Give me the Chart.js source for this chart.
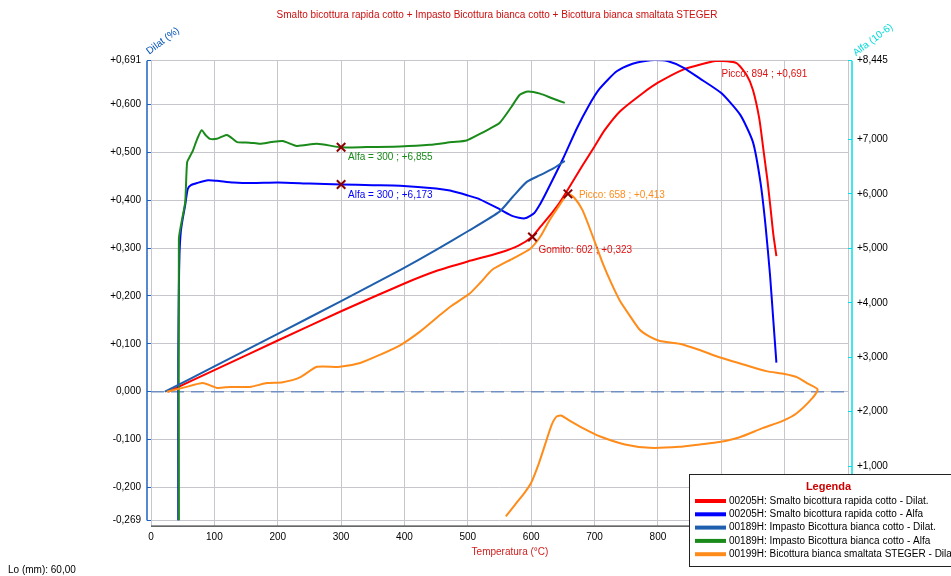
<!DOCTYPE html>
<html>
<head>
<meta charset="utf-8">
<script src="https://cdn.jsdelivr.net/npm/chart.js@4.4.1/dist/chart.umd.min.js"></script>
<style>
  html, body { margin: 0; padding: 0; background: #fff; }
  canvas { display: block; }
</style>
</head>
<body>
<canvas id="dilatChart" width="951" height="576"></canvas>
<script>
const chartTitle = 'Smalto bicottura rapida cotto + Impasto Bicottura bianca cotto + Bicottura bianca smaltata STEGER';
const seriesNames = [
  '00205H: Smalto bicottura rapida cotto - Dilat.',
  '00205H: Smalto bicottura rapida cotto - Alfa',
  '00189H: Impasto Bicottura bianca cotto - Dilat.',
  '00189H: Impasto Bicottura bianca cotto - Alfa',
  '00199H: Bicottura bianca smaltata STEGER - Dilat.'
];
const seriesColors = ['#ff0000', '#0000ff', '#1f5fae', '#1a8a1a', '#ff8c1a'];

// temperature (°C) / dilatation (%) or alfa (10-6)
const redTemp  = [27, 100, 200, 300, 400, 450, 500, 550, 580, 601, 615, 629, 645, 656, 680, 700, 716, 740, 776, 800, 839, 870, 894, 924, 940, 950, 960, 967, 973, 978, 982, 987];
const redDilat = [0, 0.045, 0.107, 0.168, 0.226, 0.252, 0.272, 0.29, 0.305, 0.323, 0.345, 0.367, 0.395, 0.418, 0.47, 0.512, 0.546, 0.585, 0.623, 0.645, 0.672, 0.684, 0.691, 0.686, 0.661, 0.63, 0.57, 0.5, 0.44, 0.38, 0.33, 0.283];

const blueTemp = [43, 43, 44, 45, 47, 50, 54, 58, 63, 73, 90, 104, 130, 160, 200, 250, 300, 350, 393, 450, 472, 500, 519, 550, 571, 590, 605, 614, 624, 650, 672, 690, 708, 735, 760, 780, 795, 815, 840, 866, 900, 930, 950, 962, 970, 977, 982, 987];
const blueAlfa = [0, 3.0, 4.3, 4.9, 5.3, 5.54, 5.8, 6.09, 6.16, 6.2, 6.25, 6.24, 6.21, 6.2, 6.21, 6.19, 6.173, 6.16, 6.15, 6.1, 6.06, 5.97, 5.9, 5.72, 5.59, 5.55, 5.65, 5.81, 6.03, 6.64, 7.2, 7.6, 7.93, 8.25, 8.39, 8.44, 8.46, 8.44, 8.32, 8.12, 7.85, 7.45, 6.95, 6.2, 5.4, 4.5, 3.7, 2.9];

const steelTemp  = [22, 100, 200, 300, 393, 450, 500, 550, 571, 593, 614, 635, 653];
const steelDilat = [0, 0.053, 0.121, 0.189, 0.254, 0.296, 0.335, 0.376, 0.407, 0.438, 0.452, 0.466, 0.482];

const greenTemp = [44, 44, 49, 54, 57, 62, 66, 73, 80, 86, 93, 104, 112, 120, 128, 136, 156, 172, 190, 208, 230, 262, 300, 340, 393, 440, 475, 498, 519, 535, 550, 569, 582, 595, 614, 634, 653];
const greenAlfa = [0, 5.17, 5.53, 5.85, 6.58, 6.7, 6.79, 7.01, 7.17, 7.08, 7.01, 7.01, 7.05, 7.08, 7.02, 6.95, 6.94, 6.92, 6.95, 6.97, 6.88, 6.92, 6.855, 6.86, 6.87, 6.9, 6.95, 6.98, 7.1, 7.2, 7.3, 7.6, 7.82, 7.88, 7.84, 7.75, 7.67];

const orangeTemp  = [25, 50, 82, 104, 125, 156, 183, 208, 235, 262, 298, 330, 361, 393, 424, 456, 475, 503, 520, 539, 571, 598, 614, 629, 645, 658, 668, 681, 697, 713, 727, 740, 755, 771, 787, 803, 834, 866, 897, 935, 971, 1000, 1020, 1035, 1052, 1044, 1019, 997, 965, 929, 897, 866, 834, 787, 748, 708, 680, 660, 648, 640, 632, 622, 612, 600, 590, 575, 560];
const orangeDilat = [0, 0.008, 0.018, 0.008, 0.01, 0.01, 0.018, 0.02, 0.03, 0.052, 0.052, 0.06, 0.077, 0.097, 0.125, 0.16, 0.18, 0.205, 0.228, 0.255, 0.278, 0.298, 0.323, 0.358, 0.39, 0.413, 0.405, 0.379, 0.325, 0.268, 0.225, 0.19, 0.16, 0.13, 0.115, 0.106, 0.1, 0.087, 0.072, 0.057, 0.043, 0.037, 0.03, 0.018, 0.005, -0.013, -0.045, -0.061, -0.076, -0.095, -0.105, -0.11, -0.115, -0.117, -0.11, -0.093, -0.075, -0.06, -0.05, -0.052, -0.07, -0.11, -0.15, -0.19, -0.21, -0.235, -0.26];

// marked points
const alfaMarkTemp  = [300, 300];
const alfaMarkValue = [6.855, 6.173];
const dilatMarkTemp  = [602, 658];
const dilatMarkValue = [0.323, 0.413];

// notes: temperature, value, axis, text
const noteTemp  = [300, 300, 602, 658, 894];
const noteValue = [6.855, 6.173, 0.323, 0.413, 0.691];
const noteAxis  = ['y2', 'y2', 'y', 'y', 'y'];
const noteText  = ['Alfa = 300 ; +6,855', 'Alfa = 300 ; +6,173', 'Gomito: 602 ; +0,323', 'Picco: 658 ; +0,413', 'Picco: 894 ; +0,691'];
const noteColor = ['#1a8a1a', '#0000ff', '#e01010', '#ff8c1a', '#e01010'];

const xTicks = [0, 100, 200, 300, 400, 500, 600, 700, 800, 900, 1000, 1100];
const dilatTicks = [-0.269, -0.2, -0.1, 0, 0.1, 0.2, 0.3, 0.4, 0.5, 0.6, 0.691];
const alfaTicks = [0, 1, 2, 3, 4, 5, 6, 7, 8.445];

const FONT = 'Liberation Sans, Arial, sans-serif';
const gridColor = '#c6c6cc';

function fmt(v) {
  if (v === 0) return '0,000';
  const s = Math.abs(v).toFixed(3).replace('.', ',');
  return (v > 0 ? '+' : '-') + s;
}
const pts = (xs, ys) => xs.map((x, i) => ({ x: x, y: ys[i] }));

const noteOffsets = [[7, 10], [7, 11], [6, 13], [11, 1], [4, 14]];

const decor = {
  id: 'decor',
  beforeDatasetsDraw(chart) {
    const { ctx, chartArea: a, scales } = chart;
    const y0 = scales.y.getPixelForValue(0);
    ctx.save();
    ctx.strokeStyle = '#7090c4';
    ctx.lineWidth = 1.5;
    ctx.setLineDash([13, 7]);
    ctx.beginPath();
    ctx.moveTo(a.left, y0);
    ctx.lineTo(a.right, y0);
    ctx.stroke();
    ctx.restore();
  },
  afterDraw(chart) {
    const { ctx, chartArea: a, scales } = chart;
    ctx.save();
    // axis lines
    ctx.lineWidth = 1.5;
    ctx.strokeStyle = '#1f62c0';
    ctx.beginPath(); ctx.moveTo(a.left - 4, a.top); ctx.lineTo(a.left - 4, a.bottom); ctx.stroke();
    ctx.strokeStyle = '#00e0e8';
    ctx.beginPath(); ctx.moveTo(a.right + 4, a.top); ctx.lineTo(a.right + 4, a.bottom + 10); ctx.stroke();
    ctx.strokeStyle = '#000';
    ctx.lineWidth = 1;
    ctx.beginPath(); ctx.moveTo(a.left, a.bottom + 5.5); ctx.lineTo(951, a.bottom + 5.5); ctx.stroke();

    // title
    ctx.font = '10px ' + FONT;
    ctx.fillStyle = '#cc1010';
    ctx.textAlign = 'center';
    ctx.textBaseline = 'middle';
    ctx.fillText(chartTitle, 497, 15);

    // axis titles
    ctx.fillStyle = '#d02020';
    ctx.fillText('Temperatura (°C)', 510, 552);
    ctx.fillStyle = '#000';
    ctx.textAlign = 'left';
    ctx.fillText('Lo (mm): 60,00', 8, 570);

    ctx.save();
    ctx.translate(163, 41);
    ctx.rotate(-37 * Math.PI / 180);
    ctx.textAlign = 'center';
    ctx.fillStyle = '#0050b8';
    ctx.fillText('Dilat (%)', 0, 0);
    ctx.restore();

    ctx.save();
    ctx.translate(873, 40);
    ctx.rotate(-37 * Math.PI / 180);
    ctx.textAlign = 'center';
    ctx.fillStyle = '#00dada';
    ctx.fillText('Alfa (10-6)', 0, 0);
    ctx.restore();

    // notes
    ctx.textAlign = 'left';
    noteText.forEach((t, i) => {
      const px = scales.x.getPixelForValue(noteTemp[i]);
      const py = scales[noteAxis[i]].getPixelForValue(noteValue[i]);
      ctx.fillStyle = noteColor[i];
      ctx.fillText(t, px + noteOffsets[i][0], py + noteOffsets[i][1]);
    });

    // legend box
    const lx = 689.5, ly = 474.5, lw = 278, lh = 92;
    ctx.fillStyle = '#fff';
    ctx.fillRect(lx, ly, lw, lh);
    ctx.strokeStyle = '#222';
    ctx.lineWidth = 1;
    ctx.strokeRect(lx, ly, lw, lh);
    ctx.font = 'bold 11px ' + FONT;
    ctx.fillStyle = '#cc0000';
    ctx.textAlign = 'center';
    ctx.fillText('Legenda', lx + lw / 2, 487);
    ctx.font = '10px ' + FONT;
    ctx.textAlign = 'left';
    seriesNames.forEach((n, i) => {
      const ry = 501 + i * 13.3;
      ctx.strokeStyle = seriesColors[i];
      ctx.lineWidth = 4;
      ctx.beginPath(); ctx.moveTo(695, ry); ctx.lineTo(726, ry); ctx.stroke();
      ctx.fillStyle = '#000';
      ctx.fillText(n, 729, ry);
    });
    ctx.restore();
  }
};

const lineDs = (data, color, axis) => ({
  data: data, yAxisID: axis, showLine: true, borderColor: color, backgroundColor: color,
  borderWidth: 2, pointRadius: 0, tension: 0.2, order: 1
});

const markStyle = {
  showLine: false, pointStyle: 'crossRot', pointRadius: 6, borderColor: '#8b0000',
  backgroundColor: '#8b0000', pointBorderWidth: 2, order: 0
};

new Chart(document.getElementById('dilatChart'), {
  type: 'scatter',
  data: {
    datasets: [
      lineDs(pts(orangeTemp, orangeDilat), seriesColors[4], 'y'),
      lineDs(pts(steelTemp, steelDilat), seriesColors[2], 'y'),
      lineDs(pts(greenTemp, greenAlfa), seriesColors[3], 'y2'),
      lineDs(pts(blueTemp, blueAlfa), seriesColors[1], 'y2'),
      lineDs(pts(redTemp, redDilat), seriesColors[0], 'y'),
      Object.assign({ data: pts(alfaMarkTemp, alfaMarkValue), yAxisID: 'y2' }, markStyle),
      Object.assign({ data: pts(dilatMarkTemp, dilatMarkValue), yAxisID: 'y' }, markStyle)
    ]
  },
  options: {
    responsive: false,
    animation: false,
    events: [],
    layout: { padding: { top: 60.7, left: 0, right: 0, bottom: 0 } },
    plugins: { legend: { display: false }, tooltip: { enabled: false } },
    scales: {
      x: {
        type: 'linear', min: 0, max: 1100,
        afterBuildTicks: s => { s.ticks = xTicks.map(v => ({ value: v })); },
        afterFit: s => { s.height = 55.4; },
        grid: { color: gridColor, tickColor: gridColor, tickLength: 5 },
        border: { display: false },
        ticks: { color: '#000', font: { family: FONT, size: 10 }, padding: 6, maxRotation: 0, autoSkip: false, callback: v => String(v) }
      },
      y: {
        position: 'left', min: -0.269, max: 0.691,
        afterBuildTicks: s => { s.ticks = dilatTicks.map(v => ({ value: v })); },
        afterFit: s => { s.width = 151; },
        grid: { color: gridColor, tickColor: '#1f62c0', tickLength: 4 },
        border: { display: false },
        ticks: { color: '#000', font: { family: FONT, size: 10 }, padding: 6, autoSkip: false, callback: fmt }
      },
      y2: {
        position: 'right', min: 0, max: 8.445,
        afterBuildTicks: s => { s.ticks = alfaTicks.map(v => ({ value: v })); },
        afterFit: s => { s.width = 103; },
        grid: { drawOnChartArea: false, tickColor: '#00e0e8', tickLength: 4 },
        border: { display: false },
        ticks: { color: '#000', font: { family: FONT, size: 10 }, padding: 5, autoSkip: false, callback: fmt }
      }
    }
  },
  plugins: [decor]
});
</script>
</body>
</html>
